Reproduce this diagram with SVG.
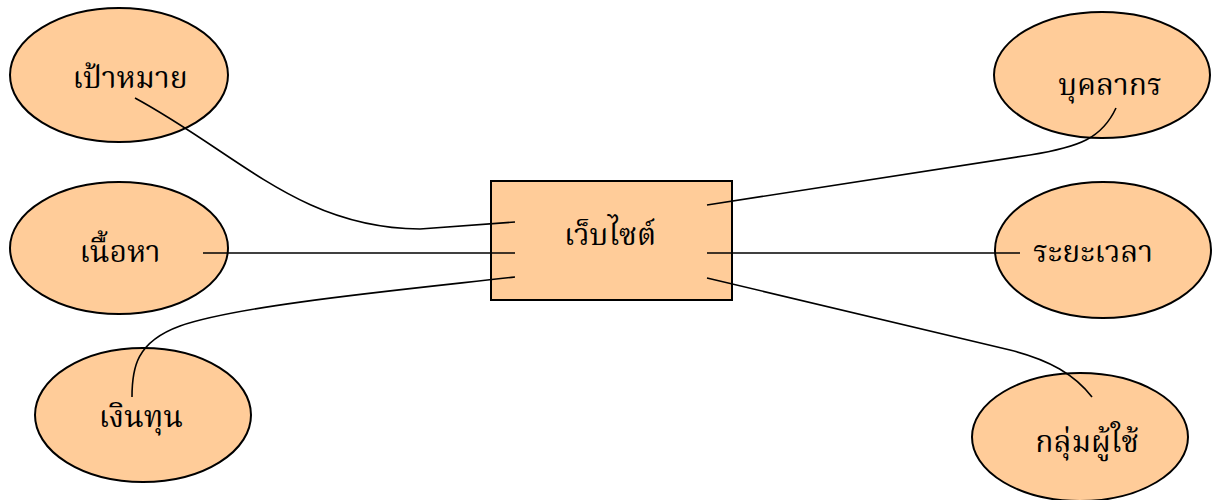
<svg xmlns="http://www.w3.org/2000/svg" width="1214" height="500" viewBox="0 0 1214 500">
  <style>
    .node { fill: #FFCC99; stroke: #000; stroke-width: 2; }
    .link { fill: none; stroke: #000; stroke-width: 1.6; }
    .label { font-family: "Liberation Serif", "Noto Serif Thai", "Noto Sans Thai", serif; font-size: 30px; fill: #000; text-anchor: middle; }
  </style>
  <rect width="1214" height="500" fill="#fff"/>
  <g id="n-goal">
    <ellipse class="node" cx="119" cy="75" rx="109" ry="67"/>
    <text class="label" x="130" y="88">เป้าหมาย</text>
  </g>
  <g id="n-content">
    <ellipse class="node" cx="119" cy="248" rx="109" ry="66"/>
    <text class="label" x="120" y="262">เนื้อหา</text>
  </g>
  <g id="n-fund">
    <ellipse class="node" cx="143" cy="415" rx="108" ry="67"/>
    <text class="label" x="141" y="427">เงินทุน</text>
  </g>
  <g id="n-website">
    <rect class="node" x="491" y="181" width="241" height="119"/>
    <text class="label" x="610" y="245">เว็บไซต์</text>
  </g>
  <g id="n-staff">
    <ellipse class="node" cx="1102" cy="75" rx="108" ry="63"/>
    <text class="label" x="1110" y="95">บุคลากร</text>
  </g>
  <g id="n-time">
    <ellipse class="node" cx="1103" cy="250" rx="108" ry="68"/>
    <text class="label" x="1093" y="262">ระยะเวลา</text>
  </g>
  <g id="n-users">
    <ellipse class="node" cx="1080" cy="437" rx="108" ry="64"/>
    <text class="label" x="1087" y="452">กลุ่มผู้ใช้</text>
  </g>
  <g id="connectors">
    <path class="link" d="M135,98 C240,155 300,228 420,229 L515,222"/>
    <path class="link" d="M203,253 L515,253"/>
    <path class="link" d="M132,397 C132,368 136,342 180,326 C240,305 400,290 515,277"/>
    <path class="link" d="M707,205 L1030,155 C1080,147 1102,138 1116,108"/>
    <path class="link" d="M707,253 L1020,253"/>
    <path class="link" d="M707,278 L1010,350 C1050,360 1075,375 1092,397"/>
  </g>
</svg>
